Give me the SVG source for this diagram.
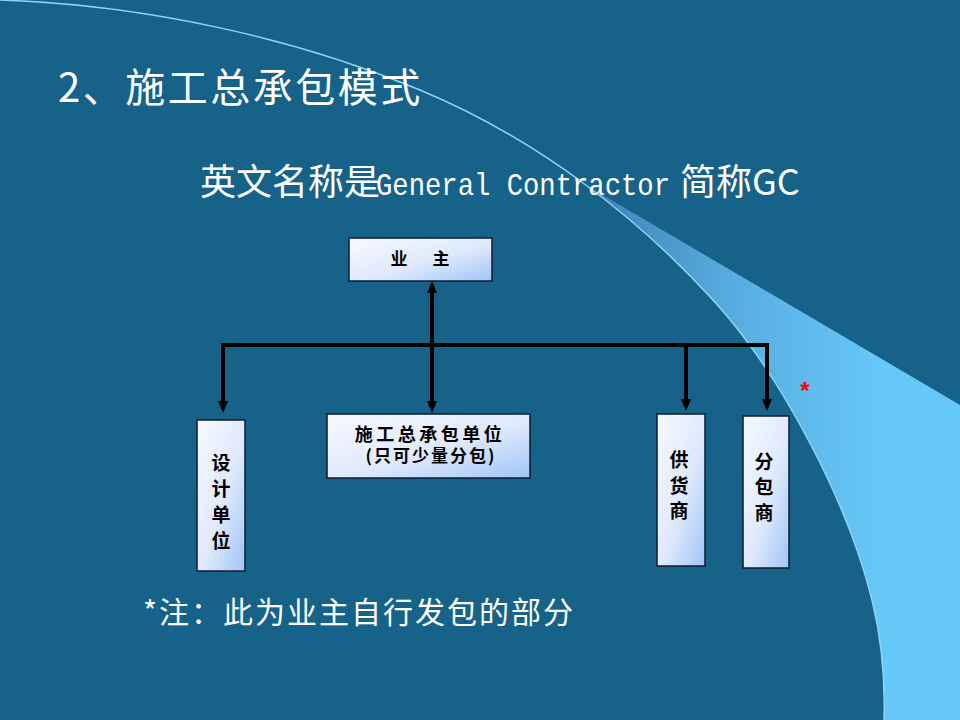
<svg xmlns="http://www.w3.org/2000/svg" width="960" height="720" viewBox="0 0 960 720">
<defs>
<style>
.bg{fill:#166289}
.cjkw{font-family:"Noto Sans CJK SC","Noto Sans",sans-serif;fill:#ffffff}
.box{stroke:#0d1b33;stroke-width:1.5;fill:url(#boxg)}
.bt{font-family:"Noto Sans CJK SC","Noto Sans",sans-serif;font-weight:bold;fill:#000000;text-anchor:middle}
.conn{stroke:#000000;stroke-width:4;fill:none}
</style>
<linearGradient id="boxg" x1="0" y1="0" x2="1" y2="1">
<stop offset="0" stop-color="#f7f9ff"/>
<stop offset="0.55" stop-color="#dfe9fc"/>
<stop offset="1" stop-color="#9ec5f4"/>
</linearGradient>
<linearGradient id="swg" gradientUnits="userSpaceOnUse" x1="590" y1="0" x2="880" y2="0">
<stop offset="0" stop-color="#3f82b2"/>
<stop offset="0.5" stop-color="#58ade0"/>
<stop offset="1" stop-color="#66c8f8"/>
</linearGradient>
<marker id="ah" viewBox="0 0 12 10" refX="2" refY="5" markerWidth="12" markerHeight="10" markerUnits="userSpaceOnUse" orient="auto-start-reverse">
<path d="M0,0 L12,5 L0,10 Z" fill="#000000"/>
</marker>
</defs>
<rect class="bg" x="0" y="0" width="960" height="720"/>
<path d="M584,184 L960,405 L960,720 L884,720 C885,690 883,645 872,600 C850,510 786,380 713,300 C676.5,260 633.25,220 584,184 Z" fill="url(#swg)"/>
<path d="M0,0 C150,5 300,40 420,90 C540,140 640,220 713,300 C786,380 850,510 872,600 C883,645 885,690 884,720" fill="none" stroke="#8fd3f7" stroke-width="1.5"/>
<text class="cjkw" x="58" y="102" font-size="40" letter-spacing="2.5">2、施工总承包模式</text>
<text class="cjkw" y="195" font-size="36"><tspan x="200">英文名称是</tspan><tspan x="376" font-family="Liberation Mono, monospace" font-size="32" textLength="294" lengthAdjust="spacingAndGlyphs">General Contractor</tspan><tspan x="680">简称GC</tspan></text>
<g id="connectors">
<path class="conn" d="M223,345 H767" stroke-linecap="square"/>
<path class="conn" d="M223,345 V403" marker-end="url(#ah)"/>
<path class="conn" d="M686,345 V401" marker-end="url(#ah)"/>
<path class="conn" d="M767,345 V401" marker-end="url(#ah)"/>
<path class="conn" d="M432,403 V291" marker-start="url(#ah)" marker-end="url(#ah)"/>
</g>
<g id="owner">
<rect class="box" x="349" y="238" width="143" height="43"/>
<text class="bt" x="422" y="265" font-size="17" letter-spacing="4">业　主</text>
</g>
<g id="gc">
<rect class="box" x="327" y="414" width="203" height="64"/>
<text class="bt" x="430" y="441" font-size="18" letter-spacing="3.5">施工总承包单位</text>
<text class="bt" x="431" y="462" font-size="17" letter-spacing="2">(只可少量分包)</text>
</g>
<g id="design">
<rect class="box" x="197" y="420" width="48" height="151"/>
<text class="bt" x="221" font-size="19"><tspan x="221" y="470">设</tspan><tspan x="221" y="496">计</tspan><tspan x="221" y="522">单</tspan><tspan x="221" y="548">位</tspan></text>
</g>
<g id="supplier">
<rect class="box" x="657" y="414" width="48" height="152"/>
<text class="bt" x="679" font-size="19"><tspan x="679" y="467">供</tspan><tspan x="679" y="493">货</tspan><tspan x="679" y="518">商</tspan></text>
</g>
<g id="subcontractor">
<rect class="box" x="743" y="416" width="46" height="152"/>
<text class="bt" x="764" font-size="19"><tspan x="764" y="469">分</tspan><tspan x="764" y="494">包</tspan><tspan x="764" y="520">商</tspan></text>
</g>
<text x="805" y="399" font-family="Liberation Sans, sans-serif" font-size="24" font-weight="bold" fill="#ff0000" text-anchor="middle">*</text>
<text class="cjkw" x="143" y="623" font-size="30" letter-spacing="2">*注：此为业主自行发包的部分</text>
</svg>
